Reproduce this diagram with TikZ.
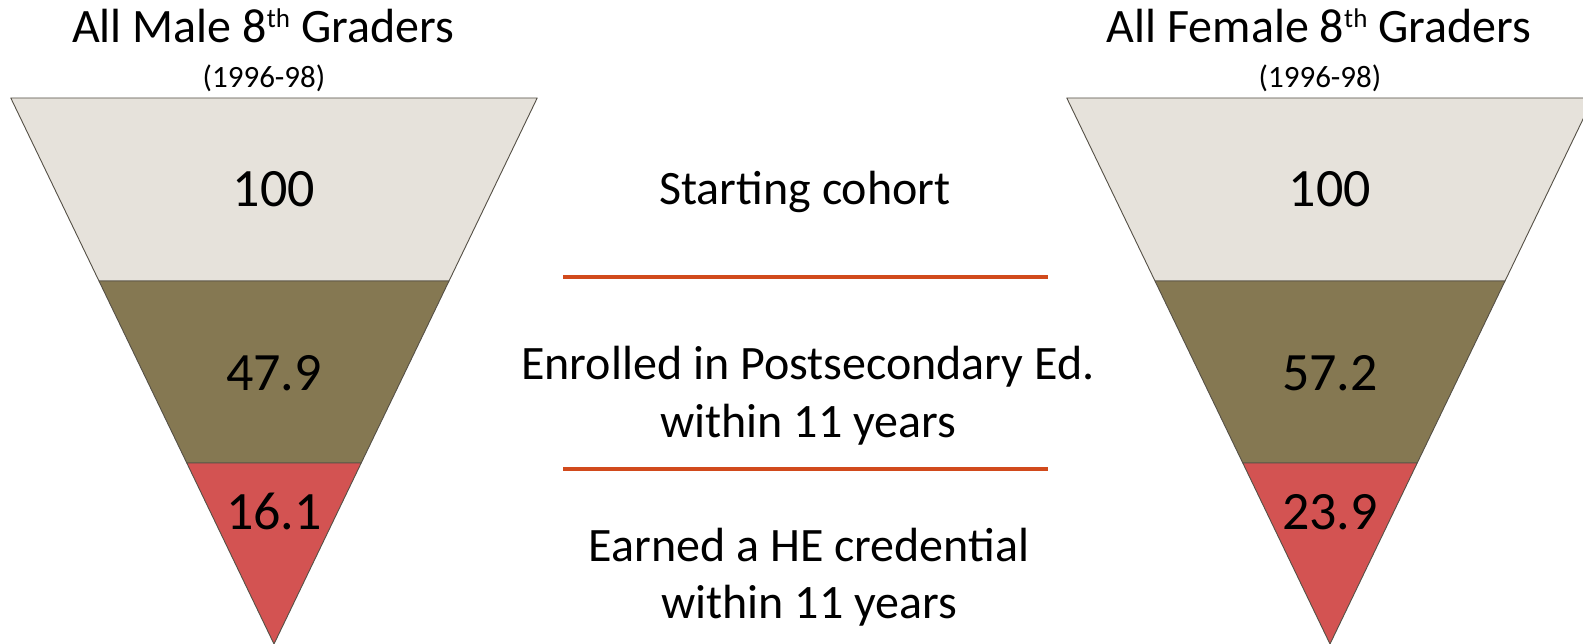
\documentclass[tikz,border=0pt]{standalone}
\usepackage{fontspec}
\setmainfont{Carlito}
\definecolor{bandtop}{RGB}{230,226,219}
\definecolor{bandmid}{RGB}{133,120,82}
\definecolor{bandlow}{RGB}{211,83,82}
\definecolor{sepline}{RGB}{209,74,28}
\definecolor{edge}{RGB}{85,80,70}
\newcommand{\supth}{\raisebox{15pt}{\fontsize{27}{27}\selectfont th}}
\tikzset{
  band/.style={draw=edge, line width=0.9pt, line join=round},
  lbl/.style={inner sep=0pt, anchor=base, text=black},
  title/.style={lbl, font=\fontsize{48}{58}\selectfont},
  subt/.style={lbl, font=\fontsize{31}{37}\selectfont},
  num/.style={lbl, font=\fontsize{54}{64}\selectfont},
  desc/.style={lbl, font=\fontsize{48}{58}\selectfont},
  orange/.style={draw=sepline, line width=4pt}
}
\begin{document}
\begin{tikzpicture}[x=1pt,y=-1pt]
\useasboundingbox (0,0) rectangle (1583,644);
\fill[white] (0,0) rectangle (1583,644);
\begin{scope}
\clip (0,0) rectangle (1583,644);
% male funnel
\filldraw[band, fill=bandtop] (10.8,98) -- (537.2,98) -- (449,281) -- (99,281) -- cycle;
\filldraw[band, fill=bandmid] (99,281) -- (449,281) -- (361.2,463) -- (186.8,463) -- cycle;
\filldraw[band, fill=bandlow] (186.8,463) -- (361.2,463) -- (274,644) -- cycle;
% female funnel
\filldraw[band, fill=bandtop] (1066.8,98) -- (1593.2,98) -- (1505,281) -- (1155,281) -- cycle;
\filldraw[band, fill=bandmid] (1155,281) -- (1505,281) -- (1417.2,463) -- (1242.8,463) -- cycle;
\filldraw[band, fill=bandlow] (1242.8,463) -- (1417.2,463) -- (1330,644) -- cycle;
\end{scope}
% titles
\node[title] (mtitle) at (263,43) {All Male 8\supth{} Graders};
\node[subt] (msub) at (264,88) {(1996-98)};
\node[title] (ftitle) at (1319,43) {All Female 8\supth{} Graders};
\node[subt] (fsub) at (1320,88) {(1996-98)};
% numbers
\node[num] (m100) at (274,207) {100};
\node[num] (m479) at (274,390) {47.9};
\node[num] (m161) at (274,529) {16.1};
\node[num] (f100) at (1330,207) {100};
\node[num] (f572) at (1330,390) {57.2};
\node[num] (f239) at (1330,529) {23.9};
% descriptions
\node[desc] (start) at (805,205) {Starting cohort};
\node[desc] (enr1) at (808,380) {Enrolled in Postsecondary Ed.};
\node[desc] (enr2) at (808,437) {within 11 years};
\node[desc] (earn1) at (809,561) {Earned a HE credential};
\node[desc] (earn2) at (809,618) {within 11 years};
% separators
\coordinate (s1a) at (563,277.5);
\coordinate (s1b) at (1048,277.5);
\coordinate (s2a) at (563,469);
\coordinate (s2b) at (1048,469);
\draw[orange] (s1a) -- (s1b);
\draw[orange] (s2a) -- (s2b);
\end{tikzpicture}
\end{document}
